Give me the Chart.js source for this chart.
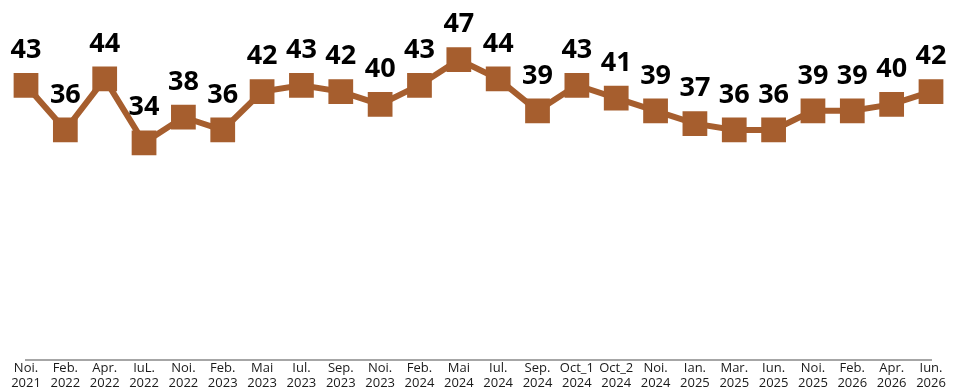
<!DOCTYPE html>
<html>
<head>
<meta charset="utf-8">
<script src="https://cdn.jsdelivr.net/npm/chart.js@4.4.1/dist/chart.umd.min.js"></script>
<style>
  html, body { margin: 0; padding: 0; background: #fff; }
  #wrap { width: 953px; height: 392px; }
</style>
</head>
<body>
<div id="wrap"><canvas id="myChart" width="953" height="392"></canvas></div>
<script>
// data
var months = ['Noi.', 'Feb.', 'Apr.', 'IuL.', 'Noi.', 'Feb.', 'Mai', 'Iul.', 'Sep.', 'Noi.', 'Feb.', 'Mai',
              'Iul.', 'Sep.', 'Oct_1', 'Oct_2', 'Noi.', 'Ian.', 'Mar.', 'Iun.', 'Noi.', 'Feb.', 'Apr.', 'Iun.'];
var years = ['2021', '2022', '2022', '2022', '2022', '2023', '2023', '2023', '2023', '2023', '2024', '2024',
             '2024', '2024', '2024', '2024', '2024', '2025', '2025', '2025', '2025', '2026', '2026', '2026'];
var values = [43, 36, 44, 34, 38, 36, 42, 43, 42, 40, 43, 47, 44, 39, 43, 41, 39, 37, 36, 36, 39, 39, 40, 42];

var lineColor = '#A65E2E';

var labels = [];
for (var i = 0; i < months.length; i++) {
    labels.push([months[i], years[i]]);
}

// draws the value above each marker
var valueLabels = {
    id: 'valueLabels',
    afterDatasetsDraw: function (chart) {
        var ctx = chart.ctx;
        var meta = chart.getDatasetMeta(0);
        ctx.save();
        ctx.font = 'bold 27px "Open Sans", sans-serif';
        ctx.fillStyle = '#000';
        ctx.textAlign = 'center';
        ctx.textBaseline = 'middle';
        meta.data.forEach(function (pt, idx) {
            ctx.fillText(String(chart.data.datasets[0].data[idx]), pt.x, pt.y - 35);
        });
        ctx.restore();
    }
};

var ctx = document.getElementById('myChart').getContext('2d');
new Chart(ctx, {
    type: 'line',
    data: {
        labels: labels,
        datasets: [{
            data: values,
            borderColor: lineColor,
            backgroundColor: lineColor,
            borderWidth: 6,
            pointStyle: 'rect',
            pointRadius: 17.5,
            pointHoverRadius: 17.5,
            pointBorderWidth: 0,
            pointBackgroundColor: lineColor,
            tension: 0
        }]
    },
    options: {
        responsive: false,
        animation: false,
        layout: { padding: { left: 26, right: 22, top: 0, bottom: 0 } },
        plugins: {
            legend: { display: false },
            tooltip: { enabled: false }
        },
        scales: {
            x: {
                offset: false,
                grid: { display: false, drawTicks: false },
                border: { display: true, color: '#a6a6a6', width: 2 },
                ticks: {
                    autoSkip: false,
                    maxRotation: 0,
                    padding: 1,
                    color: '#1a1a1a',
                    font: { family: '"Open Sans", sans-serif', size: 13, lineHeight: 1.15 }
                }
            },
            y: {
                display: false,
                min: 0,
                max: 53.6
            }
        }
    },
    plugins: [valueLabels]
});
</script>
</body>
</html>
